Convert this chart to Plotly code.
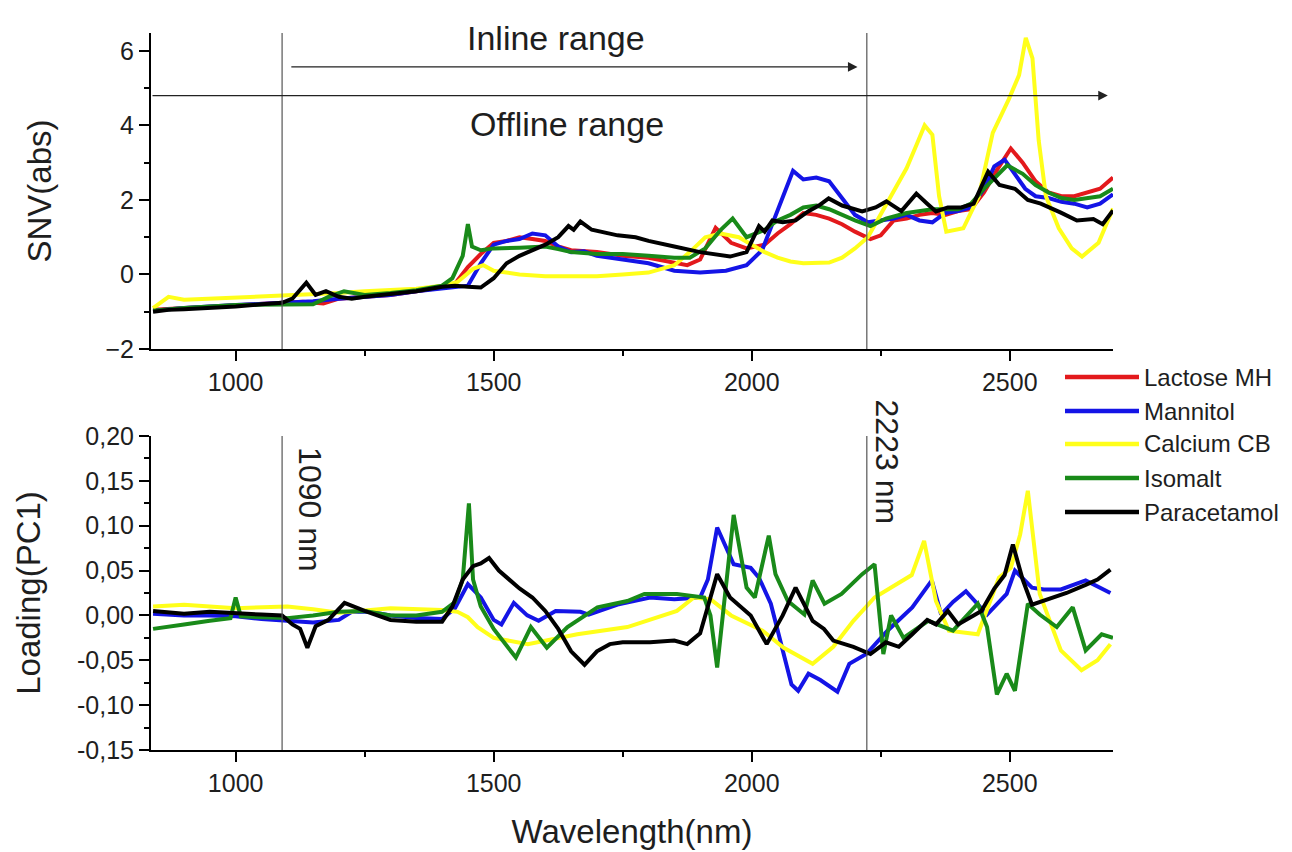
import plotly.graph_objects as go

# ---------------- data ----------------
X_TICKS = [1000, 1500, 2000, 2500]
SNV_TICKS = [-2, 0, 2, 4, 6]
PC1_TICKS = [-0.15, -0.10, -0.05, 0.00, 0.05, 0.10, 0.15, 0.20]
PC1_TICK_LABELS = ["-0,15", "-0,10", "-0,05", "0,00", "0,05", "0,10", "0,15", "0,20"]
VLINES_NM = [1090, 2223]

LACTOSE_SNV_NM = [840, 900, 950, 1000, 1050, 1090, 1130, 1170, 1200, 1250,
                  1300, 1350, 1400, 1425, 1450, 1475, 1500, 1525, 1550, 1575,
                  1600, 1625, 1650, 1700, 1750, 1800, 1850, 1875, 1900, 1930,
                  1960, 1990, 2025, 2050, 2075, 2100, 2125, 2150, 2175, 2200,
                  2230, 2250, 2275, 2300, 2325, 2350, 2375, 2400, 2425, 2450,
                  2475, 2502, 2525, 2550, 2575, 2600, 2625, 2650, 2675, 2700]
LACTOSE_SNV = [-0.95, -0.9, -0.86, -0.82, -0.78, -0.75, -0.73, -0.78, -0.65, -0.6,
               -0.55, -0.45, -0.35, -0.25, 0.2, 0.55, 0.85, 0.9, 1.0, 0.95,
               0.9, 0.75, 0.65, 0.6, 0.5, 0.45, 0.3, 0.25, 0.4, 1.25,
               0.85, 0.7, 0.8, 1.1, 1.35, 1.65, 1.6, 1.5, 1.35, 1.15,
               0.95, 1.05, 1.45, 1.5, 1.6, 1.65, 1.6, 1.7, 1.75, 2.2,
               2.8, 3.38, 3.0, 2.5, 2.2, 2.1, 2.1, 2.2, 2.3, 2.6]

MANNITOL_SNV_NM = [840, 900, 1000, 1090, 1150, 1200, 1250, 1300, 1350, 1400,
                   1425, 1450, 1475, 1500, 1525, 1550, 1575, 1600, 1625, 1650,
                   1675, 1700, 1750, 1800, 1850, 1900, 1950, 1990, 2020, 2050,
                   2080, 2100, 2125, 2150, 2175, 2200, 2225, 2250, 2275, 2300,
                   2325, 2350, 2375, 2400, 2425, 2450, 2470, 2490, 2510, 2530,
                   2550, 2575, 2600, 2625, 2650, 2675, 2700]
MANNITOL_SNV = [-0.97, -0.9, -0.82, -0.75, -0.72, -0.65, -0.6, -0.55, -0.45, -0.38,
                -0.35, -0.3, 0.3, 0.8, 0.9, 0.95, 1.1, 1.05, 0.75, 0.6,
                0.62, 0.5, 0.4, 0.3, 0.1, 0.05, 0.1, 0.25, 0.65, 1.7,
                2.78, 2.55, 2.6, 2.5, 2.05, 1.6, 1.4, 1.45, 1.5, 1.6,
                1.45, 1.4, 1.65, 1.7, 1.8, 2.3, 2.9, 3.08, 2.7, 2.3,
                2.1, 2.05, 1.95, 1.9, 1.8, 1.9, 2.15]

CALCIUM_SNV_NM = [840, 870, 900, 950, 1000, 1050, 1100, 1150, 1200, 1250,
                  1300, 1350, 1400, 1430, 1460, 1480, 1500, 1550, 1600, 1650,
                  1700, 1750, 1800, 1850, 1880, 1910, 1940, 1975, 2000, 2025,
                  2050, 2075, 2100, 2125, 2150, 2175, 2200, 2225, 2250, 2275,
                  2300, 2320, 2335, 2350, 2363, 2377, 2410, 2440, 2467, 2498,
                  2518, 2531, 2544, 2556, 2570, 2595, 2620, 2640, 2672, 2700]
CALCIUM_SNV = [-0.9, -0.6, -0.68, -0.65, -0.62, -0.6, -0.58, -0.55, -0.5, -0.45,
               -0.42, -0.38, -0.3, -0.2, 0.15, 0.25, 0.1, 0.0, -0.05, -0.05,
               -0.05, 0.0, 0.05, 0.25, 0.6, 1.0, 1.1, 1.0, 0.8, 0.6,
               0.45, 0.35, 0.3, 0.3, 0.32, 0.45, 0.7, 1.0, 1.6, 2.2,
               2.85, 3.5, 4.0, 3.75, 2.1, 1.15, 1.24, 2.1, 3.8, 4.7,
               5.35, 6.35, 5.8, 3.6, 2.1, 1.24, 0.7, 0.48, 0.85, 1.77]

ISOMALT_SNV_NM = [840, 900, 1000, 1090, 1150, 1180, 1210, 1250, 1300, 1350,
                  1400, 1420, 1440, 1450, 1458, 1475, 1500, 1550, 1600, 1625,
                  1650, 1700, 1750, 1800, 1850, 1880, 1910, 1940, 1963, 1990,
                  2025, 2050, 2075, 2100, 2125, 2150, 2175, 2200, 2230, 2260,
                  2300, 2350, 2400, 2425, 2450, 2475, 2495, 2525, 2550, 2575,
                  2600, 2625, 2650, 2675, 2700]
ISOMALT_SNV = [-0.97, -0.9, -0.82, -0.8, -0.8, -0.6, -0.45, -0.55, -0.5, -0.42,
               -0.3, -0.1, 0.5, 1.35, 0.75, 0.65, 0.7, 0.72, 0.75, 0.68,
               0.6, 0.55, 0.55, 0.5, 0.45, 0.45, 0.7, 1.2, 1.5, 1.0,
               1.2, 1.45, 1.6, 1.8, 1.85, 1.75, 1.6, 1.45, 1.3, 1.5,
               1.65, 1.75, 1.75, 1.9, 2.3, 2.65, 2.93, 2.7, 2.4, 2.2,
               2.05, 2.0, 2.05, 2.1, 2.3]

PARACETAMOL_SNV_NM = [840, 870, 900, 950, 1000, 1050, 1090, 1110, 1125, 1137,
                      1155, 1175, 1200, 1225, 1250, 1300, 1350, 1400, 1425, 1450,
                      1475, 1500, 1525, 1550, 1575, 1600, 1625, 1645, 1655, 1668,
                      1690, 1710, 1740, 1775, 1800, 1850, 1900, 1958, 1990, 2014,
                      2025, 2040, 2060, 2085, 2110, 2130, 2149, 2175, 2214, 2240,
                      2261, 2290, 2319, 2340, 2357, 2380, 2406, 2430, 2458, 2480,
                      2510, 2535, 2560, 2599, 2630, 2662, 2680, 2700]
PARACETAMOL_SNV = [-1.0, -0.95, -0.93, -0.9, -0.86, -0.8, -0.76, -0.65, -0.4, -0.22,
                   -0.55, -0.45, -0.6, -0.65, -0.6, -0.52, -0.45, -0.33, -0.3, -0.33,
                   -0.35, -0.1, 0.3, 0.5, 0.65, 0.8, 1.0, 1.3, 1.2, 1.42,
                   1.2, 1.15, 1.05, 1.0, 0.9, 0.75, 0.6, 0.48, 0.6, 1.3,
                   1.15, 1.45, 1.4, 1.45, 1.7, 1.85, 2.04, 1.85, 1.69, 1.8,
                   1.96, 1.7, 2.17, 1.9, 1.69, 1.8, 1.8, 1.9, 2.76, 2.4,
                   2.3, 2.0, 1.9, 1.66, 1.45, 1.49, 1.35, 1.72]

MANNITOL_PC1_NM = [840, 900, 950, 1000, 1050, 1100, 1150, 1200, 1225, 1260,
                   1300, 1350, 1400, 1425, 1450, 1475, 1500, 1515, 1539, 1565,
                   1587, 1620, 1668, 1684, 1740, 1803, 1850, 1900, 1915, 1933,
                   1965, 1998, 2014, 2037, 2062, 2077, 2090, 2110, 2133, 2166,
                   2189, 2222, 2263, 2311, 2349, 2367, 2390, 2415, 2456, 2494,
                   2510, 2543, 2566, 2599, 2647, 2695]
MANNITOL_PC1 = [0.002, 0.0, 0.0, -0.001, -0.004, -0.006, -0.008, -0.005, 0.004, 0.004,
                0.0, -0.003, -0.004, 0.008, 0.035, 0.02, -0.005, -0.01, 0.014, 0.0,
                -0.006, 0.005, 0.004, 0.001, 0.012, 0.02, 0.018, 0.02, 0.04, 0.098,
                0.057, 0.053, 0.042, 0.013, -0.043, -0.077, -0.084, -0.065, -0.072, -0.085,
                -0.054, -0.043, -0.017, 0.009, 0.039, 0.001, 0.015, 0.027, 0.001, 0.024,
                0.05, 0.031, 0.029, 0.029, 0.039, 0.025]

CALCIUM_PC1_NM = [840, 900, 1000, 1100, 1150, 1200, 1300, 1400, 1430, 1450,
                  1469, 1500, 1566, 1662, 1759, 1855, 1888, 1920, 1960, 2021,
                  2062, 2118, 2158, 2197, 2238, 2280, 2310, 2334, 2357, 2382,
                  2438, 2479, 2502, 2520, 2535, 2558, 2599, 2639, 2670, 2695]
CALCIUM_PC1 = [0.01, 0.012, 0.008, 0.01, 0.007, 0.003, 0.008, 0.006, 0.004, -0.002,
               -0.013, -0.025, -0.032, -0.021, -0.013, 0.005, 0.02, 0.018, 0.0, -0.017,
               -0.036, -0.054, -0.035, -0.006, 0.02, 0.035, 0.045, 0.083, 0.016, -0.017,
               -0.021, 0.042, 0.053, 0.09, 0.139, 0.024, -0.039, -0.061, -0.05, -0.032]

ISOMALT_PC1_NM = [840, 870, 900, 950, 990, 1000, 1010, 1050, 1100, 1150,
                  1200, 1250, 1300, 1350, 1400, 1425, 1440, 1452, 1460, 1475,
                  1500, 1543, 1572, 1603, 1643, 1701, 1759, 1792, 1855, 1908,
                  1920, 1933, 1948, 1965, 1990, 2006, 2033, 2046, 2070, 2102,
                  2118, 2141, 2174, 2214, 2238, 2255, 2270, 2294, 2342, 2390,
                  2438, 2456, 2475, 2494, 2510, 2535, 2558, 2591, 2622, 2647,
                  2678, 2700]
ISOMALT_PC1 = [-0.015, -0.013, -0.01, -0.006, -0.003, 0.02, -0.001, -0.002, -0.003, 0.0,
               0.004, 0.005, 0.0, 0.0, 0.004, 0.015, 0.04, 0.125, 0.04, 0.01,
               -0.015, -0.047, -0.013, -0.036, -0.013, 0.009, 0.016, 0.024, 0.024, 0.02,
               0.0, -0.058, 0.02, 0.112, 0.031, 0.02, 0.089, 0.046, 0.016, 0.001,
               0.039, 0.013, 0.024, 0.046, 0.057, -0.043, 0.0, -0.025, -0.006, -0.017,
               0.013, -0.013, -0.088, -0.065, -0.084, 0.013, 0.001, -0.013, 0.009, -0.039,
               -0.021, -0.025]

PARACETAMOL_PC1_NM = [840, 900, 950, 1000, 1050, 1090, 1110, 1125, 1139, 1155,
                      1180, 1211, 1250, 1300, 1350, 1400, 1420, 1440, 1460, 1475,
                      1491, 1510, 1530, 1550, 1575, 1600, 1625, 1650, 1676, 1700,
                      1725, 1750, 1803, 1850, 1875, 1900, 1915, 1933, 1958, 1998,
                      2029, 2060, 2085, 2118, 2140, 2158, 2197, 2230, 2260, 2285,
                      2311, 2340, 2357, 2380, 2400, 2423, 2445, 2470, 2490, 2506,
                      2525, 2543, 2583, 2610, 2647, 2670, 2695]
PARACETAMOL_PC1 = [0.005, 0.002, 0.004, 0.002, 0.001, 0.0, -0.01, -0.015, -0.036, -0.012,
                   -0.005, 0.014, 0.005, -0.005, -0.007, -0.007, 0.01, 0.04, 0.055, 0.058,
                   0.064, 0.05, 0.04, 0.03, 0.02, 0.005, -0.015, -0.04, -0.055, -0.04,
                   -0.032, -0.03, -0.03, -0.028, -0.032, -0.02, 0.01, 0.046, 0.02, 0.0,
                   -0.032, 0.0, 0.031, -0.006, -0.015, -0.028, -0.035, -0.043, -0.03, -0.035,
                   -0.021, -0.005, -0.01, 0.005, -0.01, -0.002, 0.005, 0.03, 0.045, 0.079,
                   0.04, 0.012, 0.02, 0.025, 0.034, 0.04, 0.051]

NAMES = ["Lactose MH", "Mannitol", "Calcium CB", "Isomalt", "Paracetamol"]
COLORS = ["#e3191c", "#1414e6", "#ffff1a", "#198a19", "#000000"]

# ---------------- layout helpers ----------------
W, H = 1292, 852
FONT = "Liberation Sans, Arial, sans-serif"
TXT = "#1e1e1e"
def fx(p):
    return p / W
def fy(p):
    return 1 - p / H

fig = go.Figure()

top = [(LACTOSE_SNV_NM, LACTOSE_SNV), (MANNITOL_SNV_NM, MANNITOL_SNV),
       (CALCIUM_SNV_NM, CALCIUM_SNV), (ISOMALT_SNV_NM, ISOMALT_SNV),
       (PARACETAMOL_SNV_NM, PARACETAMOL_SNV)]
for (xs, ys), name, col in zip(top, NAMES, COLORS):
    fig.add_trace(go.Scatter(x=xs, y=ys, mode="lines", name=name,
                             line=dict(color=col, width=4),
                             xaxis="x", yaxis="y", showlegend=False))

bottom = [(MANNITOL_PC1_NM, MANNITOL_PC1, 1), (CALCIUM_PC1_NM, CALCIUM_PC1, 2),
          (ISOMALT_PC1_NM, ISOMALT_PC1, 3), (PARACETAMOL_PC1_NM, PARACETAMOL_PC1, 4)]
for xs, ys, i in bottom:
    fig.add_trace(go.Scatter(x=xs, y=ys, mode="lines", name=NAMES[i],
                             line=dict(color=COLORS[i], width=4),
                             xaxis="x2", yaxis="y2", showlegend=False))

XDOM = [fx(143), fx(1105)]
XRANGE = [836, 2700]
tickfont = dict(family=FONT, size=25, color=TXT)
titlefont = dict(family=FONT, size=33, color=TXT)
common = dict(showline=True, linecolor="black", linewidth=2, ticks="outside",
              ticklen=10, tickwidth=1.5, tickcolor="black", showgrid=False,
              zeroline=False, tickfont=tickfont, automargin=False)
minor_common = dict(ticks="outside", ticklen=5, tickwidth=1.5, tickcolor="black")

fig.update_layout(
    width=W, height=H, template="none",
    paper_bgcolor="white", plot_bgcolor="white",
    margin=dict(l=0, r=0, t=0, b=0),
    showlegend=False,
    xaxis=dict(domain=XDOM, range=XRANGE, anchor="y", tickvals=X_TICKS,
               minor=dict(tickvals=[1250, 1750, 2250], **minor_common), **common),
    yaxis=dict(domain=[fy(341), fy(25)], range=[-2, 6.48], anchor="x", tickvals=SNV_TICKS,
               minor=dict(tickvals=[-1, 1, 3, 5], **minor_common),
               title=dict(text="SNV(abs)", font=titlefont, standoff=44), **common),
    xaxis2=dict(domain=XDOM, range=XRANGE, anchor="y2", tickvals=X_TICKS,
                minor=dict(tickvals=[1250, 1750, 2250], **minor_common),
                title=dict(text="Wavelength(nm)", font=titlefont, standoff=24), **common),
    yaxis2=dict(domain=[fy(742), fy(428)], range=[-0.15, 0.20], anchor="x2",
                tickvals=PC1_TICKS, ticktext=PC1_TICK_LABELS,
                minor=dict(tickvals=[-0.125, -0.075, -0.025, 0.025, 0.075, 0.125, 0.175],
                           **minor_common),
                title=dict(text="Loading(PC1)", font=titlefont, standoff=26), **common),
)

shapes = []
for v in VLINES_NM:
    for ya in ("y", "y2"):
        shapes.append(dict(type="line", xref="x" if ya == "y" else "x2",
                           yref=ya + " domain", x0=v, x1=v, y0=0, y1=1,
                           line=dict(color="#555", width=1.2)))

ann = []
# range arrows
ann.append(dict(x=2690, y=4.8, ax=XRANGE[0], ay=4.8, xref="x", yref="y", axref="x", ayref="y",
                showarrow=True, arrowhead=2, arrowsize=1.6, arrowwidth=1.2, arrowcolor="#222",
                text=""))
ann.append(dict(x=2205, y=5.57, ax=1105, ay=5.57, xref="x", yref="y", axref="x", ayref="y",
                showarrow=True, arrowhead=2, arrowsize=1.6, arrowwidth=1.2, arrowcolor="#222",
                text=""))
ann.append(dict(x=1620, y=6.34, xref="x", yref="y", text="Inline range", showarrow=False,
                font=dict(family=FONT, size=34, color=TXT)))
ann.append(dict(x=1643, y=4.05, xref="x", yref="y", text="Offline range", showarrow=False,
                font=dict(family=FONT, size=34, color=TXT)))
ann.append(dict(x=1145, y=0.118, xref="x2", yref="y2", text="1090 nm", showarrow=False,
                textangle=90, font=dict(family=FONT, size=32, color=TXT)))
ann.append(dict(x=2263, y=0.171, xref="x2", yref="y2", text="2223 nm", showarrow=False,
                textangle=90, font=dict(family=FONT, size=32, color=TXT)))

# legend (drawn as line samples + labels)
LEG_ROWS = [369, 403, 436, 470, 504]
for name, col, row in zip(NAMES, COLORS, LEG_ROWS):
    shapes.append(dict(type="line", xref="paper", yref="paper", x0=fx(1057), x1=fx(1131),
                       y0=fy(row), y1=fy(row), line=dict(color=col, width=4.5)))
    ann.append(dict(x=fx(1134), y=fy(row), xref="paper", yref="paper", text=name,
                    showarrow=False, xanchor="left", yanchor="middle",
                    font=dict(family=FONT, size=24, color=TXT)))
fig.update_layout(shapes=shapes, annotations=ann)

fig.write_html("out.html")
